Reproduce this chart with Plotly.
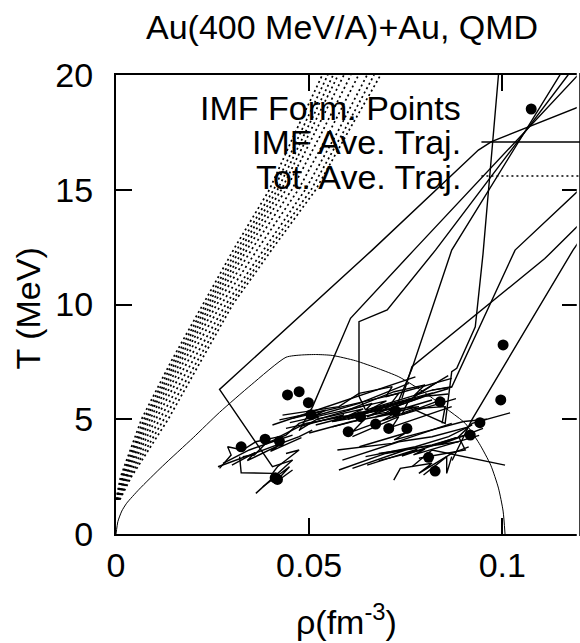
import plotly.graph_objects as go

FONT = "Liberation Sans, Arial, Helvetica, sans-serif"
FS = 34

# ---------------- data ----------------
# Total average trajectories (dotted): common temperature grid, one density list per event class
tot_T = [1.5, 2.5, 5.0, 7.5, 10.0, 12.5, 15.0, 17.5, 20.0]
tot_rho = [
    [0.0000, 0.0012, 0.0066, 0.0142, 0.0225, 0.0308, 0.0397, 0.0464, 0.0534],
    [0.0002, 0.0015, 0.0072, 0.0148, 0.0232, 0.0317, 0.0408, 0.0478, 0.0548],
    [0.0001, 0.0017, 0.0077, 0.0154, 0.0238, 0.0325, 0.0418, 0.0490, 0.0562],
    [0.0003, 0.0019, 0.0082, 0.0160, 0.0245, 0.0334, 0.0428, 0.0502, 0.0575],
    [0.0002, 0.0022, 0.0088, 0.0167, 0.0252, 0.0343, 0.0440, 0.0516, 0.0590],
    [0.0004, 0.0025, 0.0095, 0.0175, 0.0261, 0.0355, 0.0455, 0.0533, 0.0608],
    [0.0005, 0.0028, 0.0103, 0.0185, 0.0272, 0.0370, 0.0472, 0.0552, 0.0628],
    [0.0006, 0.0032, 0.0113, 0.0197, 0.0284, 0.0386, 0.0490, 0.0573, 0.0650],
    [0.0008, 0.0036, 0.0124, 0.0208, 0.0294, 0.0398, 0.0505, 0.0588, 0.0668],
    [0.0010, 0.0040, 0.0135, 0.0218, 0.0302, 0.0408, 0.0517, 0.0600, 0.0685],
]

# IMF average trajectories (solid)
imf_rho = [
    [0.0457, 0.0405, 0.0268, 0.0663, 0.0938, 0.0972, 0.1196, 0.1250],
    [0.0775, 0.0852, 0.0869, 0.0882, 0.0930, 0.0950, 0.0990, 0.0996],
    [0.0474, 0.0509, 0.0607, 0.0771, 0.1196, 0.1210],
    [0.0646, 0.0629, 0.0629, 0.0702, 0.0827, 0.1170, 0.1180],
    [0.0740, 0.0766, 0.1110, 0.1260],
    [0.0724, 0.0766, 0.0869, 0.1149, 0.1160],
    [0.0870, 0.0921, 0.1183, 0.1250],
    [0.0818, 0.0869, 0.1033, 0.1250],
    [0.0264, 0.0474, 0.0508],
    [0.0268, 0.0298, 0.0289, 0.0328, 0.0362, 0.0423, 0.0491],
    [0.0320, 0.0324, 0.0405, 0.0418, 0.0474, 0.0440],
    [0.0362, 0.0457],
    [0.0380, 0.0449, 0.0410, 0.0457],
    [0.0328, 0.0358, 0.0388, 0.0440, 0.0474, 0.0526],
    [0.0277, 0.0311, 0.0345, 0.0405, 0.0457],
    [0.0405, 0.0560, 0.0672, 0.0775],
    [0.0431, 0.0577, 0.0629, 0.0715, 0.0698, 0.0869],
    [0.0474, 0.0517, 0.0663, 0.0646, 0.0818, 0.0869],
    [0.0457, 0.0732, 0.0706, 0.0861],
    [0.0491, 0.0689, 0.0784, 0.0672, 0.0818],
    [0.0560, 0.0646, 0.0612, 0.0775, 0.0852, 0.0844],
    [0.0612, 0.0732, 0.0715, 0.0869],
    [0.0423, 0.0543, 0.0508, 0.0629, 0.0758],
    [0.0517, 0.0620, 0.0715, 0.0680, 0.0800, 0.0860],
    [0.0440, 0.0560, 0.0650, 0.0600, 0.0740],
    [0.0560, 0.0700, 0.0760, 0.0740, 0.0850],
    [0.0600, 0.0720, 0.0800, 0.0770, 0.0860],
    [0.0573, 0.0715, 0.0869],
    [0.0577, 0.0698, 0.0818, 0.0904],
    [0.0612, 0.0749, 0.0680, 0.0887],
    [0.0586, 0.0732, 0.0818, 0.0913],
    [0.0719, 0.0736, 0.0818, 0.0784, 0.0869, 0.0913],
    [0.0766, 0.0818, 0.1007],
    [0.0796, 0.0856, 0.0856, 0.0869],
    [0.0784, 0.0904, 0.0887, 0.0922, 0.1020],
    [0.0646, 0.0775, 0.0861, 0.0922],
    [0.0480, 0.0590, 0.0560, 0.0690, 0.0650, 0.0790],
    [0.0650, 0.0780, 0.0740, 0.0880, 0.0840, 0.0950],
    [0.0450, 0.0580, 0.0700, 0.0660, 0.0820],
    [0.0520, 0.0640, 0.0600, 0.0760, 0.0830],
    [0.0500, 0.0610, 0.0720, 0.0690, 0.0830, 0.0880],
    [0.0630, 0.0750, 0.0720, 0.0900, 0.0960],
    [0.0680, 0.0800, 0.0770, 0.0940],
    [0.0300, 0.0360, 0.0340, 0.0420, 0.0400, 0.0480],
]
imf_T = [
    [3.22, 2.93, 6.30, 12.37, 16.73, 17.10, 18.60, 19.00],
    [5.40, 4.82, 7.07, 7.22, 9.03, 12.20, 20.00, 21.00],
    [4.50, 5.55, 9.40, 12.37, 20.00, 20.30],
    [5.40, 6.00, 9.25, 9.76, 12.37, 20.00, 20.30],
    [5.90, 7.29, 12.00, 14.50],
    [5.50, 7.20, 12.37, 20.00, 20.30],
    [3.20, 4.97, 12.37, 14.00],
    [6.27, 6.40, 12.37, 15.80],
    [2.93, 4.24, 4.53],
    [2.86, 3.44, 3.80, 3.66, 4.02, 4.24, 4.82],
    [3.37, 2.67, 2.64, 2.93, 3.66, 3.51],
    [1.77, 3.22],
    [2.06, 2.93, 2.21, 2.79],
    [3.37, 3.44, 3.95, 4.31, 4.82, 5.11],
    [3.08, 3.37, 3.66, 4.02, 4.31],
    [4.75, 5.62, 6.27, 6.85],
    [5.18, 5.55, 6.13, 6.42, 5.98, 6.78],
    [4.53, 4.97, 5.69, 5.40, 6.27, 6.42],
    [5.04, 6.13, 5.55, 6.34],
    [4.82, 5.40, 5.55, 5.11, 5.84],
    [4.67, 5.04, 4.46, 5.47, 5.55, 4.82],
    [4.24, 5.11, 4.67, 5.55],
    [4.97, 5.40, 5.11, 5.69, 6.56],
    [4.75, 5.20, 5.62, 5.30, 6.00, 6.10],
    [4.60, 5.05, 5.30, 5.00, 5.75],
    [4.90, 5.30, 5.90, 5.20, 5.90],
    [5.40, 6.20, 6.50, 6.00, 6.90],
    [3.66, 3.95, 4.82],
    [2.79, 3.51, 3.88, 4.31],
    [2.86, 3.66, 3.51, 4.02],
    [3.22, 4.02, 4.24, 4.67],
    [2.35, 2.86, 3.08, 2.64, 3.51, 3.80],
    [2.93, 3.66, 3.00],
    [2.57, 3.37, 2.64, 3.37],
    [3.30, 3.66, 4.24, 4.82, 5.28],
    [3.37, 3.80, 4.24, 4.75],
    [4.70, 5.20, 4.90, 5.45, 5.10, 5.95],
    [3.00, 3.70, 3.40, 4.20, 3.90, 4.60],
    [4.85, 5.35, 5.80, 5.45, 6.15],
    [5.00, 5.45, 5.15, 5.85, 6.60],
    [4.40, 4.90, 5.25, 4.95, 5.65, 5.90],
    [3.80, 4.40, 4.10, 4.90, 5.00],
    [3.20, 3.70, 3.45, 4.30],
    [3.00, 3.55, 3.20, 3.85, 3.60, 4.20],
]

# IMF formation points
form_rho = [0.0444, 0.0474, 0.0498, 0.0505, 0.0324, 0.0386, 0.0423, 0.0418, 0.0412,
            0.0601, 0.0633, 0.0672, 0.0706, 0.0723, 0.0753, 0.0839, 0.0809, 0.0826,
            0.0917, 0.0942, 0.0996, 0.1002]
form_T = [6.06, 6.20, 5.72, 5.20, 3.80, 4.13, 4.04, 2.38, 2.45,
          4.46, 5.11, 4.79, 4.60, 5.37, 4.60, 5.76, 3.34, 2.74,
          4.31, 4.85, 5.84, 8.24]

# phase boundary curve
bound_rho = [0.0, 0.0005, 0.0015, 0.00275, 0.006, 0.012, 0.020, 0.0268, 0.035, 0.044,
             0.048, 0.052, 0.056, 0.062, 0.068, 0.0732, 0.080, 0.086, 0.0904, 0.094,
             0.097, 0.099, 0.1002, 0.1007]
bound_T = [0.0, 0.55, 1.0, 1.34, 1.95, 2.95, 4.2, 5.3, 6.5, 7.7,
           7.8, 7.82, 7.78, 7.55, 7.2, 6.85, 6.15, 5.4, 4.82, 3.95,
           3.0, 2.0, 1.0, 0.0]

x_ticks = [0, 0.05, 0.1]
x_tick_text = ["0", "0.05", "0.1"]
y_ticks = [0, 5, 10, 15, 20]
y_tick_text = ["0", "5", "10", "15", "20"]

key_labels = ["IMF Form. Points", "IMF Ave. Traj.", "Tot. Ave. Traj."]

DOT = "2px,3px"

# ---------------- figure ----------------
fig = go.Figure()

for rho in tot_rho:
    fig.add_trace(go.Scatter(x=rho, y=tot_T, mode="lines", showlegend=False,
                             line=dict(color="black", width=1.7, dash=DOT)))

fig.add_trace(go.Scatter(x=bound_rho, y=bound_T, mode="lines", showlegend=False,
                         line=dict(color="black", width=1, shape="spline", smoothing=0.6)))

for rho, T in zip(imf_rho, imf_T):
    fig.add_trace(go.Scatter(x=rho, y=T, mode="lines", showlegend=False,
                             line=dict(color="black", width=1.4)))

fig.add_trace(go.Scatter(x=form_rho, y=form_T, mode="markers", showlegend=False,
                         marker=dict(color="black", size=11)))

L, T_, B = 116, 75, 109
W, H = 580, 643
pw = W - L
ph = H - T_ - B


def px(xp):
    return (xp - L) / pw


def py(yp):
    return (H - B - yp) / ph


annotations = []
key_y = [108, 142, 177]
for lab, yy in zip(key_labels, key_y):
    annotations.append(dict(text=lab, xref="paper", yref="paper", x=px(465), y=py(yy),
                            xanchor="right", yanchor="middle", showarrow=False,
                            font=dict(family=FONT, size=FS, color="black")))

annotations.append(dict(text="Au(400 MeV/A)+Au, QMD", xref="paper", yref="paper",
                        x=px(343), y=py(27), xanchor="center", yanchor="middle",
                        showarrow=False, font=dict(family=FONT, size=FS, color="black")))
annotations.append(dict(text="T (MeV)", xref="paper", yref="paper", x=px(28), y=py(308),
                        xanchor="center", yanchor="middle", textangle=-90, showarrow=False,
                        font=dict(family=FONT, size=FS, color="black")))
annotations.append(dict(text="\u03c1(fm<sup>-3</sup>)", xref="paper", yref="paper",
                        x=px(347), y=py(619), xanchor="center", yanchor="middle",
                        showarrow=False, font=dict(family=FONT, size=FS, color="black")))

shapes = [
    # the right frame edge sits outside the visible page
    dict(type="line", xref="paper", yref="paper", x0=1, x1=1, y0=-0.01, y1=1.01,
         line=dict(color="white", width=2.5), layer="above"),
    # key samples
    dict(type="line", xref="paper", yref="paper", x0=px(483), x1=px(620), y0=py(142), y1=py(142),
         line=dict(color="black", width=1.4)),
    dict(type="line", xref="paper", yref="paper", x0=px(483), x1=px(620), y0=py(176), y1=py(176),
         line=dict(color="black", width=1.7, dash=DOT)),
    dict(type="circle", xref="paper", yref="paper", x0=px(527.5), x1=px(538.5),
         y0=py(114.5), y1=py(103.5), fillcolor="black", line=dict(color="black", width=0)),
]

tick_common = dict(ticks="inside", ticklen=16, tickwidth=2, tickcolor="black",
                   showgrid=False, zeroline=False, showline=True, linecolor="black",
                   linewidth=2, mirror="ticks",
                   tickfont=dict(family=FONT, size=FS, color="black"))

fig.update_layout(
    width=W, height=H,
    margin=dict(l=L, r=0, t=T_, b=B),
    paper_bgcolor="white", plot_bgcolor="white",
    xaxis=dict(range=[0, pw / 3880], tickvals=x_ticks, ticktext=x_tick_text, **tick_common),
    yaxis=dict(range=[0, 20], tickvals=y_ticks, ticktext=y_tick_text,
               ticklabelstandoff=14, **tick_common),
    annotations=annotations, shapes=shapes,
)

fig.write_html("out.html")
